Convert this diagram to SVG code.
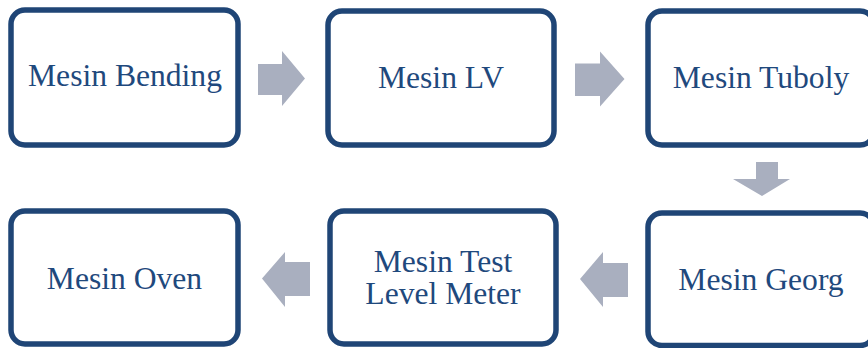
<svg xmlns="http://www.w3.org/2000/svg" width="868" height="348" viewBox="0 0 868 348">
<style>
.box{fill:#ffffff;stroke:#1f4576;stroke-width:5.5}
.lbl{font-family:"Liberation Serif","Times New Roman",serif;font-size:31.6px;fill:#1f497d;text-anchor:middle}
.arr{fill:#a9afbf;stroke:none}
</style>
<rect width="868" height="348" fill="#ffffff"/>
<g id="connectors">
<polygon class="arr" points="258,64 282,64 282,51 305,78.5 282,106 282,95 258,95"/>
<polygon class="arr" points="575,63.5 600,63.5 600,51.5 624.5,79 600,106.5 600,96 575,96"/>
<polygon class="arr" points="756,162 778,162 778,179 790,179 762,196 733,179 756,179"/>
<polygon class="arr" points="628,263 603,263 603,252 580,279 603,307 603,297 628,297"/>
<polygon class="arr" points="310,262 285,262 285,252 262,278.5 285,307 285,296 310,296"/>
</g>
<g id="node-bending">
<rect class="box" x="11" y="10" width="227" height="135" rx="14"/>
<text class="lbl" x="125" y="86">Mesin Bending</text>
</g>
<g id="node-lv">
<rect class="box" x="328" y="11" width="226" height="134" rx="14"/>
<text class="lbl" x="441" y="88">Mesin LV</text>
</g>
<g id="node-tuboly">
<rect class="box" x="648" y="11" width="226" height="134" rx="14"/>
<text class="lbl" x="761" y="88">Mesin Tuboly</text>
</g>
<g id="node-georg">
<rect class="box" x="648" y="213" width="226" height="132.5" rx="14"/>
<text class="lbl" x="761" y="290">Mesin Georg</text>
</g>
<g id="node-test">
<rect class="box" x="330" y="211" width="226" height="133" rx="14"/>
<text class="lbl" x="443" y="271.5">Mesin Test</text>
<text class="lbl" x="443" y="303.5">Level Meter</text>
</g>
<g id="node-oven">
<rect class="box" x="11" y="211" width="227" height="133" rx="14"/>
<text class="lbl" x="124.5" y="288.5">Mesin Oven</text>
</g>
</svg>
